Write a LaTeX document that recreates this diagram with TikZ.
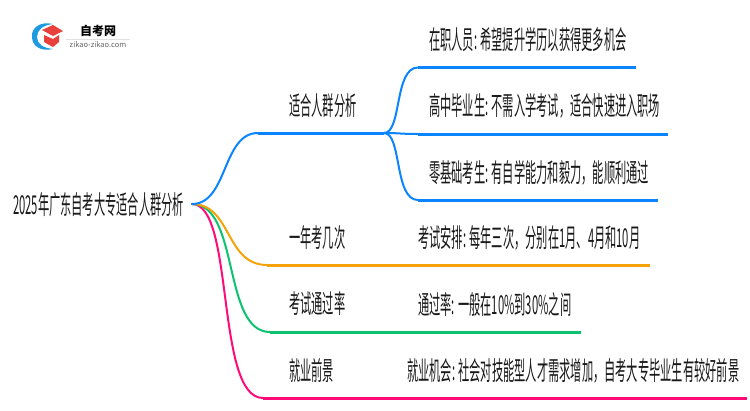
\documentclass[tikz,border=0pt]{standalone}
\usepackage{fontspec}
\setmainfont{Noto Sans CJK SC}
\definecolor{branchblue}{HTML}{0A84FF}
\definecolor{branchorange}{HTML}{F5A30A}
\definecolor{branchgreen}{HTML}{0CC26E}
\definecolor{branchpink}{HTML}{FF0A78}
\definecolor{logoblue}{HTML}{1E9BE0}
\definecolor{logored}{HTML}{E8403A}
\tikzset{
	maptext/.style={anchor=west,inner sep=0pt,text=black!90,font=\fontsize{26}{26}\selectfont,xscale=0.432,transform shape},
	curveline/.style={line width=2,line cap=round},
	ruleline/.style={line width=3}
}
\begin{document}
\begin{tikzpicture}[x=1pt,y=-1pt]
	\useasboundingbox (0,0) rectangle (750,410);
	% logo
	\fill [logoblue] (53,24) .. controls (40,21) and (31,28) .. (32,37) .. controls (32,46) and (41,52) .. (53,49) .. controls (43,48) and (37,44) .. (37,37) .. controls (37,30) and (43,25) .. (53,24) -- cycle;
	\fill [logored] (42,30) -- (53,25) -- (63,31) -- (53,36) -- cycle;
	\fill [logored] (44,35) -- (53,39) -- (59,35) -- (59,42) -- (53,47) -- (44,42) -- cycle;
	\draw [black!12,line width=0.6] (66,39) -- (130,39);
	\node (logotitle) at (98,31) {\fontsize{12}{12}\selectfont\bfseries 自考网};
	\node (logourl) [text=black!60] at (98,45) {\fontsize{7.5}{8}\selectfont zikao-zikao.com};
	% text
	\node (root) [maptext] at (13,205) {2025年广东自考大专适合人群分析};
	\node (fit) [maptext] at (289,106) {适合人群分析};
	\node (times) [maptext] at (289,238) {一年考几次};
	\node (rate) [maptext] at (289,304) {考试通过率};
	\node (job) [maptext] at (289,371) {就业前景};
	\node (fita) [maptext] at (429,40) {在职人员: 希望提升学历以获得更多机会};
	\node (fitb) [maptext] at (429,106) {高中毕业生: 不需入学考试，适合快速进入职场};
	\node (fitc) [maptext] at (429,172.5) {零基础考生: 有自学能力和毅力，能顺利通过};
	\node (timesa) [maptext] at (418,238) {考试安排: 每年三次，分别在1月、4月和10月};
	\node (ratea) [maptext] at (418,305) {通过率: 一般在10\%到30\%之间};
	\node (joba) [maptext] at (407,371) {就业机会: 社会对技能型人才需求增加，自考大专毕业生有较好前景};
	% connectors
	\coordinate (start) at (192,204);
	\coordinate (fitl) at (258,133);
	\coordinate (fitr) at (384,133);
	\coordinate (fital) at (418,67.5);
	\coordinate (fitar) at (636,67.5);
	\coordinate (fitbl) at (418,134);
	\coordinate (fitbr) at (668,134);
	\coordinate (fitcl) at (418,200);
	\coordinate (fitcr) at (658,200);
	\coordinate (timesl) at (267,265);
	\coordinate (timesr) at (650,265);
	\coordinate (ratel) at (270,332);
	\coordinate (rater) at (581,332);
	\coordinate (jobl) at (263,398);
	\coordinate (jobr) at (747,398);
	\draw [curveline,branchpink] (start) .. controls (235,204) and (215,398) .. (jobl);
	\draw [ruleline,branchpink] (jobl) -- (jobr);
	\draw [curveline,branchgreen] (start) .. controls (240,204) and (222,332) .. (ratel);
	\draw [ruleline,branchgreen] (ratel) -- (rater);
	\draw [curveline,branchorange] (start) .. controls (232,204) and (225,265) .. (timesl);
	\draw [ruleline,branchorange] (timesl) -- (timesr);
	\draw [curveline,branchblue] (start) .. controls (228,204) and (222,133) .. (fitl);
	\draw [ruleline,branchblue] (fitl) -- (fitr);
	\draw [curveline,branchblue] (fitr) .. controls (402,133) and (394,67.5) .. (fital);
	\draw [ruleline,branchblue] (fital) -- (fitar);
	\draw [curveline,branchblue] (fitr) .. controls (400,133) and (400,134) .. (fitbl);
	\draw [ruleline,branchblue] (fitbl) -- (fitbr);
	\draw [curveline,branchblue] (fitr) .. controls (402,133) and (394,200) .. (fitcl);
	\draw [ruleline,branchblue] (fitcl) -- (fitcr);
\end{tikzpicture}
\end{document}
